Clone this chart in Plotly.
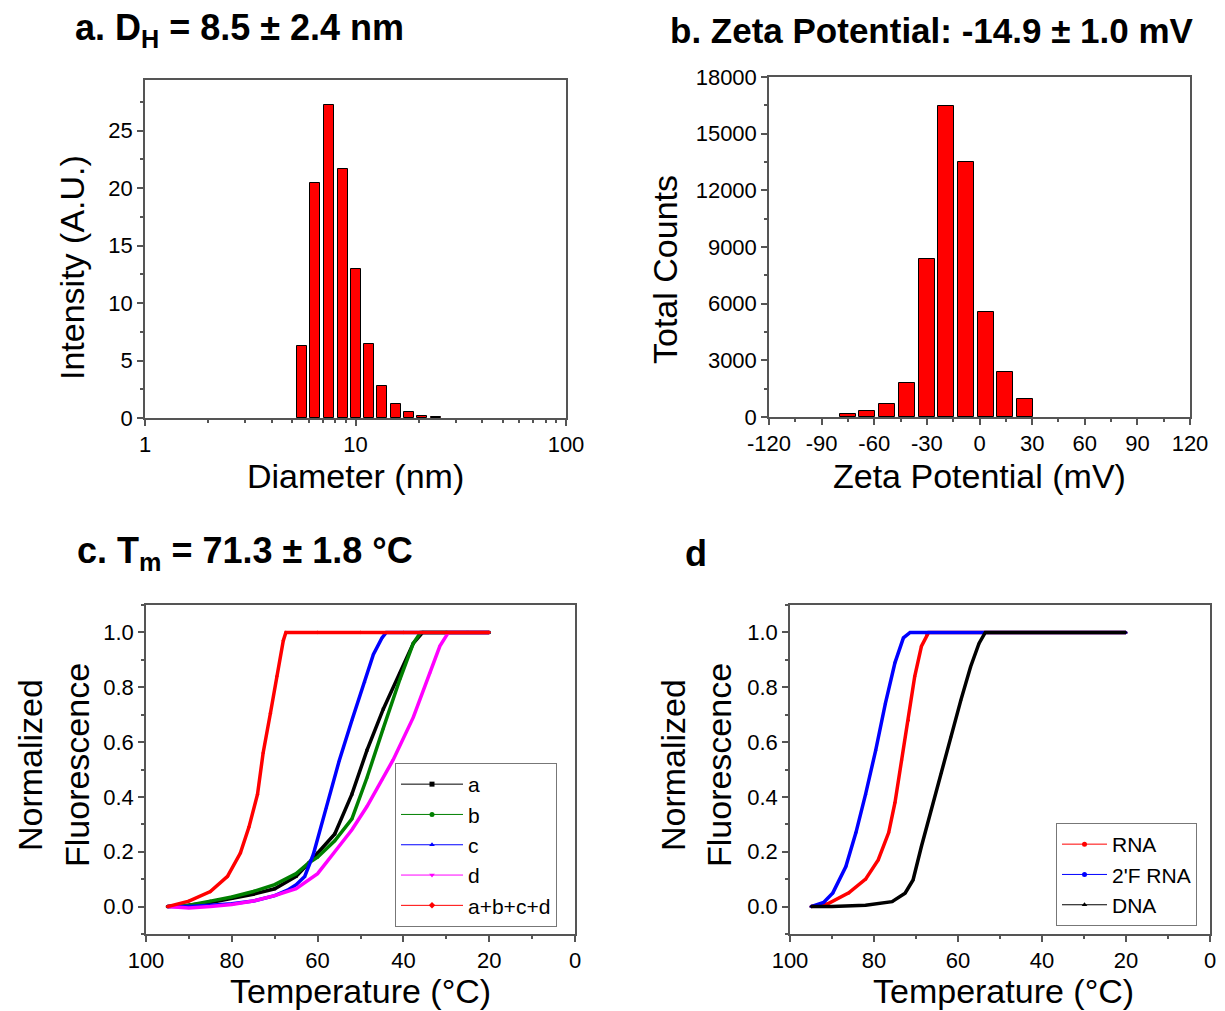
import numpy as np
import plotly.graph_objects as go

# ---------------- data ----------------
# panel a: DLS size distribution
diameter_nm = [5.55, 6.44, 7.48, 8.69, 10.0, 11.6, 13.4, 15.5, 17.9, 20.7, 24.0]
intensity_au = [6.3, 20.4, 27.2, 21.7, 13.0, 6.4, 2.8, 1.2, 0.5, 0.2, 0.06]

# panel b: zeta potential distribution
zeta_mv = [-75.1, -63.9, -52.6, -41.4, -30.2, -18.9, -7.7, 3.5, 14.8, 26.0]
zeta_counts = [150, 320, 700, 1820, 8390, 16450, 13480, 5580, 2370, 970]

# panel c: melting curves
temp_a = [95, 90, 85, 80, 75, 70, 65, 62, 60, 56, 52, 48.5, 44.7, 40.8, 37.7, 35.5, 30, 25, 20]
fluor_a = [0, 0.005, 0.015, 0.03, 0.045, 0.065, 0.11, 0.16, 0.195, 0.265, 0.41, 0.57, 0.72, 0.85, 0.96, 1.0, 1.0, 1.0, 1.0]
temp_b = [95, 90, 85, 80, 75, 70, 65, 62, 60, 56, 52, 48.5, 44.7, 40.8, 37.7, 36, 30, 25, 20]
fluor_b = [0, 0.005, 0.02, 0.035, 0.055, 0.08, 0.12, 0.16, 0.18, 0.24, 0.32, 0.47, 0.65, 0.83, 0.96, 1.0, 1.0, 1.0, 1.0]
temp_c = [95, 90, 85, 80, 75, 70, 67, 65, 63, 61, 58, 55, 52, 49, 47, 45, 44, 40, 35, 30, 25, 20]
fluor_c = [0, 0, 0.005, 0.01, 0.02, 0.04, 0.06, 0.08, 0.11, 0.19, 0.36, 0.53, 0.68, 0.82, 0.92, 0.98, 1.0, 1.0, 1.0, 1.0, 1.0, 1.0]
temp_d = [95, 90, 85, 80, 75, 70, 65, 60, 56, 52, 48.5, 45, 42.4, 37.7, 33.8, 31.5, 29.5, 25, 20]
fluor_d = [0, -0.005, 0, 0.008, 0.02, 0.04, 0.065, 0.12, 0.2, 0.28, 0.365, 0.46, 0.535, 0.69, 0.85, 0.95, 1.0, 1.0, 1.0]
temp_abcd = [95, 90, 85, 81, 78, 76, 74, 72.7, 71, 69.5, 68, 67.4, 60, 50, 40, 30, 20]
fluor_abcd = [0, 0.02, 0.055, 0.11, 0.195, 0.29, 0.41, 0.56, 0.705, 0.84, 0.97, 1.0, 1.0, 1.0, 1.0, 1.0, 1.0]

# panel d: melting curves
temp_rna = [95, 91, 86, 82, 79, 76.5, 75, 73.4, 71.8, 70.3, 68.7, 67.5, 67, 60, 50, 40, 30, 20]
fluor_rna = [0, 0.01, 0.05, 0.1, 0.17, 0.27, 0.38, 0.535, 0.68, 0.84, 0.95, 0.99, 1.0, 1.0, 1.0, 1.0, 1.0, 1.0]
temp_frna = [95, 92, 89.8, 86.7, 84.3, 82, 79.6, 77.3, 75, 73, 71.4, 65, 60, 50, 40, 30, 20]
fluor_frna = [0, 0.015, 0.05, 0.146, 0.27, 0.41, 0.57, 0.74, 0.89, 0.98, 1.0, 1.0, 1.0, 1.0, 1.0, 1.0, 1.0]
temp_dna = [95, 90, 82, 75.7, 72.6, 70.7, 68.7, 66.4, 64, 61.7, 59.3, 57, 55, 53.5, 50, 40, 30, 20]
fluor_dna = [0, 0, 0.005, 0.018, 0.049, 0.097, 0.22, 0.353, 0.486, 0.62, 0.754, 0.875, 0.96, 1.0, 1.0, 1.0, 1.0, 1.0]

# ---------------- figure ----------------
PAGE_OFF = 8                      # default body margin of the html page
W, H = 1225 - 2 * PAGE_OFF, 1011 - PAGE_OFF
FONT = "Liberation Sans, Arial, sans-serif"
AXC = "#555555"

def px(x):
    return (x - PAGE_OFF) / W

def py(y):
    return 1 - (y - PAGE_OFF) / H

fig = go.Figure()

# panel a bars on log axis (bar width ~0.0475 decades)
half = 10 ** 0.02375
d_arr = np.array(diameter_nm)
fig.add_trace(go.Bar(
    x=diameter_nm, y=intensity_au,
    offset=list(d_arr / half - d_arr), width=list(d_arr * half - d_arr / half),
    marker=dict(color="#ff0000", line=dict(color="#000000", width=1)),
    xaxis="x", yaxis="y", showlegend=False))

# panel b bars
fig.add_trace(go.Bar(
    x=zeta_mv, y=zeta_counts, width=9.1,
    marker=dict(color="#ff0000", line=dict(color="#000000", width=1)),
    xaxis="x2", yaxis="y2", showlegend=False))

def curve(t, v, name, color, symbol, xa, ya, legend):
    # thick data curve
    fig.add_trace(go.Scatter(
        x=t, y=v, name=name, mode="lines+markers",
        line=dict(color=color, width=3.5),
        marker=dict(color=color, size=3, symbol=symbol),
        xaxis=xa, yaxis=ya, showlegend=False, legendgroup=name))
    # thin legend entry (line + marker), no data drawn
    fig.add_trace(go.Scatter(
        x=[None], y=[None], name=name, mode="lines+markers",
        line=dict(color=color, width=1),
        marker=dict(color=color, size=5, symbol=symbol),
        xaxis=xa, yaxis=ya, legend=legend, legendgroup=name))

curve(temp_a, fluor_a, "a", "#000000", "square", "x3", "y3", "legend")
curve(temp_b, fluor_b, "b", "#008000", "circle", "x3", "y3", "legend")
curve(temp_c, fluor_c, "c", "#0000ff", "triangle-up", "x3", "y3", "legend")
curve(temp_d, fluor_d, "d", "#ff00ff", "triangle-down", "x3", "y3", "legend")
curve(temp_abcd, fluor_abcd, "a+b+c+d", "#ff0000", "diamond", "x3", "y3", "legend")

curve(temp_rna, fluor_rna, "RNA", "#ff0000", "circle", "x4", "y4", "legend2")
curve(temp_frna, fluor_frna, "2'F RNA", "#0000ff", "circle", "x4", "y4", "legend2")
curve(temp_dna, fluor_dna, "DNA", "#000000", "triangle-up", "x4", "y4", "legend2")

base_axis = dict(
    showline=True, mirror=True, linecolor=AXC, linewidth=1.5,
    ticks="outside", ticklen=6, tickwidth=1.5, tickcolor=AXC,
    showgrid=False, zeroline=False, automargin=False,
    tickfont=dict(family=FONT, size=22, color="#000000"),
)

def minor(vals):
    return dict(tickvals=vals, ticks="outside", ticklen=3, tickwidth=1.5, tickcolor=AXC, showgrid=False)

log_minor = [m * 10 ** e for e in (0, 1) for m in range(2, 10)]

legend_style = dict(xanchor="left", yanchor="bottom",
                    bordercolor="#777777", borderwidth=1, bgcolor="white",
                    font=dict(family=FONT, size=21, color="#000000"),
                    tracegroupgap=0)

fig.update_layout(
    width=W, height=H,
    margin=dict(l=0, r=0, t=0, b=0, autoexpand=False),
    paper_bgcolor="white", plot_bgcolor="white",
    font=dict(family=FONT, color="#000000"),
    bargap=0,
    xaxis=dict(base_axis, domain=[px(145), px(566)], anchor="y", type="log", range=[0, 2],
               tickvals=[1, 10, 100], ticktext=["1", "10", "100"], minor=minor(log_minor)),
    yaxis=dict(base_axis, domain=[py(418), py(80)], anchor="x", range=[0, 29.4],
               tickvals=[0, 5, 10, 15, 20, 25], minor=minor([2.5, 7.5, 12.5, 17.5, 22.5, 27.5])),
    xaxis2=dict(base_axis, domain=[px(769), px(1190)], anchor="y2", range=[-120, 120],
                tickvals=list(range(-120, 121, 30)),
                ticktext=[str(v) for v in range(-120, 121, 30)],
                minor=minor(list(range(-105, 120, 30)))),
    yaxis2=dict(base_axis, domain=[py(417), py(77)], anchor="x2", range=[0, 18000],
                tickvals=list(range(0, 18001, 3000)), tickformat="d",
                minor=minor(list(range(1500, 18000, 3000)))),
    xaxis3=dict(base_axis, domain=[px(146), px(575)], anchor="y3", range=[100, 0],
                tickvals=[100, 80, 60, 40, 20, 0], minor=minor([90, 70, 50, 30, 10])),
    yaxis3=dict(base_axis, domain=[py(934), py(605)], anchor="x3", range=[-0.1, 1.1],
                tickvals=[0, 0.2, 0.4, 0.6, 0.8, 1.0], tickformat=".1f",
                minor=minor([-0.1, 0.1, 0.3, 0.5, 0.7, 0.9, 1.1])),
    xaxis4=dict(base_axis, domain=[px(790), px(1210)], anchor="y4", range=[100, 0],
                tickvals=[100, 80, 60, 40, 20, 0], minor=minor([90, 70, 50, 30, 10])),
    yaxis4=dict(base_axis, domain=[py(934), py(605)], anchor="x4", range=[-0.1, 1.1],
                tickvals=[0, 0.2, 0.4, 0.6, 0.8, 1.0], tickformat=".1f",
                minor=minor([-0.1, 0.1, 0.3, 0.5, 0.7, 0.9, 1.1])),
    legend=dict(legend_style, x=px(395), y=py(927), itemwidth=62),
    legend2=dict(legend_style, x=px(1056), y=py(926), itemwidth=45),
)

ann = []
def text(x, y, s, size, bold=False, angle=0, xanchor="center"):
    ann.append(dict(xref="paper", yref="paper", x=px(x), y=py(y), text=s,
                    showarrow=False, textangle=angle, xanchor=xanchor, yanchor="middle",
                    font=dict(family=FONT, size=size, color="#000000",
                              weight="bold" if bold else "normal")))

# panel titles
text(73, 30, "a. D<sub>H</sub> = 8.5 ± 2.4 nm", 36, True, xanchor="left")
text(668, 30, "b. Zeta Potential: -14.9 ± 1.0 mV", 35, True, xanchor="left")
text(75, 553, "c. T<sub>m</sub> = 71.3 ± 1.8 °C", 36, True, xanchor="left")
text(683, 553, "d", 36, True, xanchor="left")

# axis titles
text(355, 476, "Diameter (nm)", 34)
text(72, 268, "Intensity (A.U.)", 34, angle=-90)
text(979, 476, "Zeta Potential (mV)", 34)
text(665, 270, "Total Counts", 34, angle=-90)
text(360, 991, "Temperature (°C)", 34)
text(30, 765, "Normalized", 34, angle=-90)
text(77, 765, "Fluorescence", 34, angle=-90)
text(1003, 991, "Temperature (°C)", 34)
text(673, 765, "Normalized", 34, angle=-90)
text(719, 765, "Fluorescence", 34, angle=-90)

fig.update_layout(annotations=ann)
fig.write_html("out.html")
